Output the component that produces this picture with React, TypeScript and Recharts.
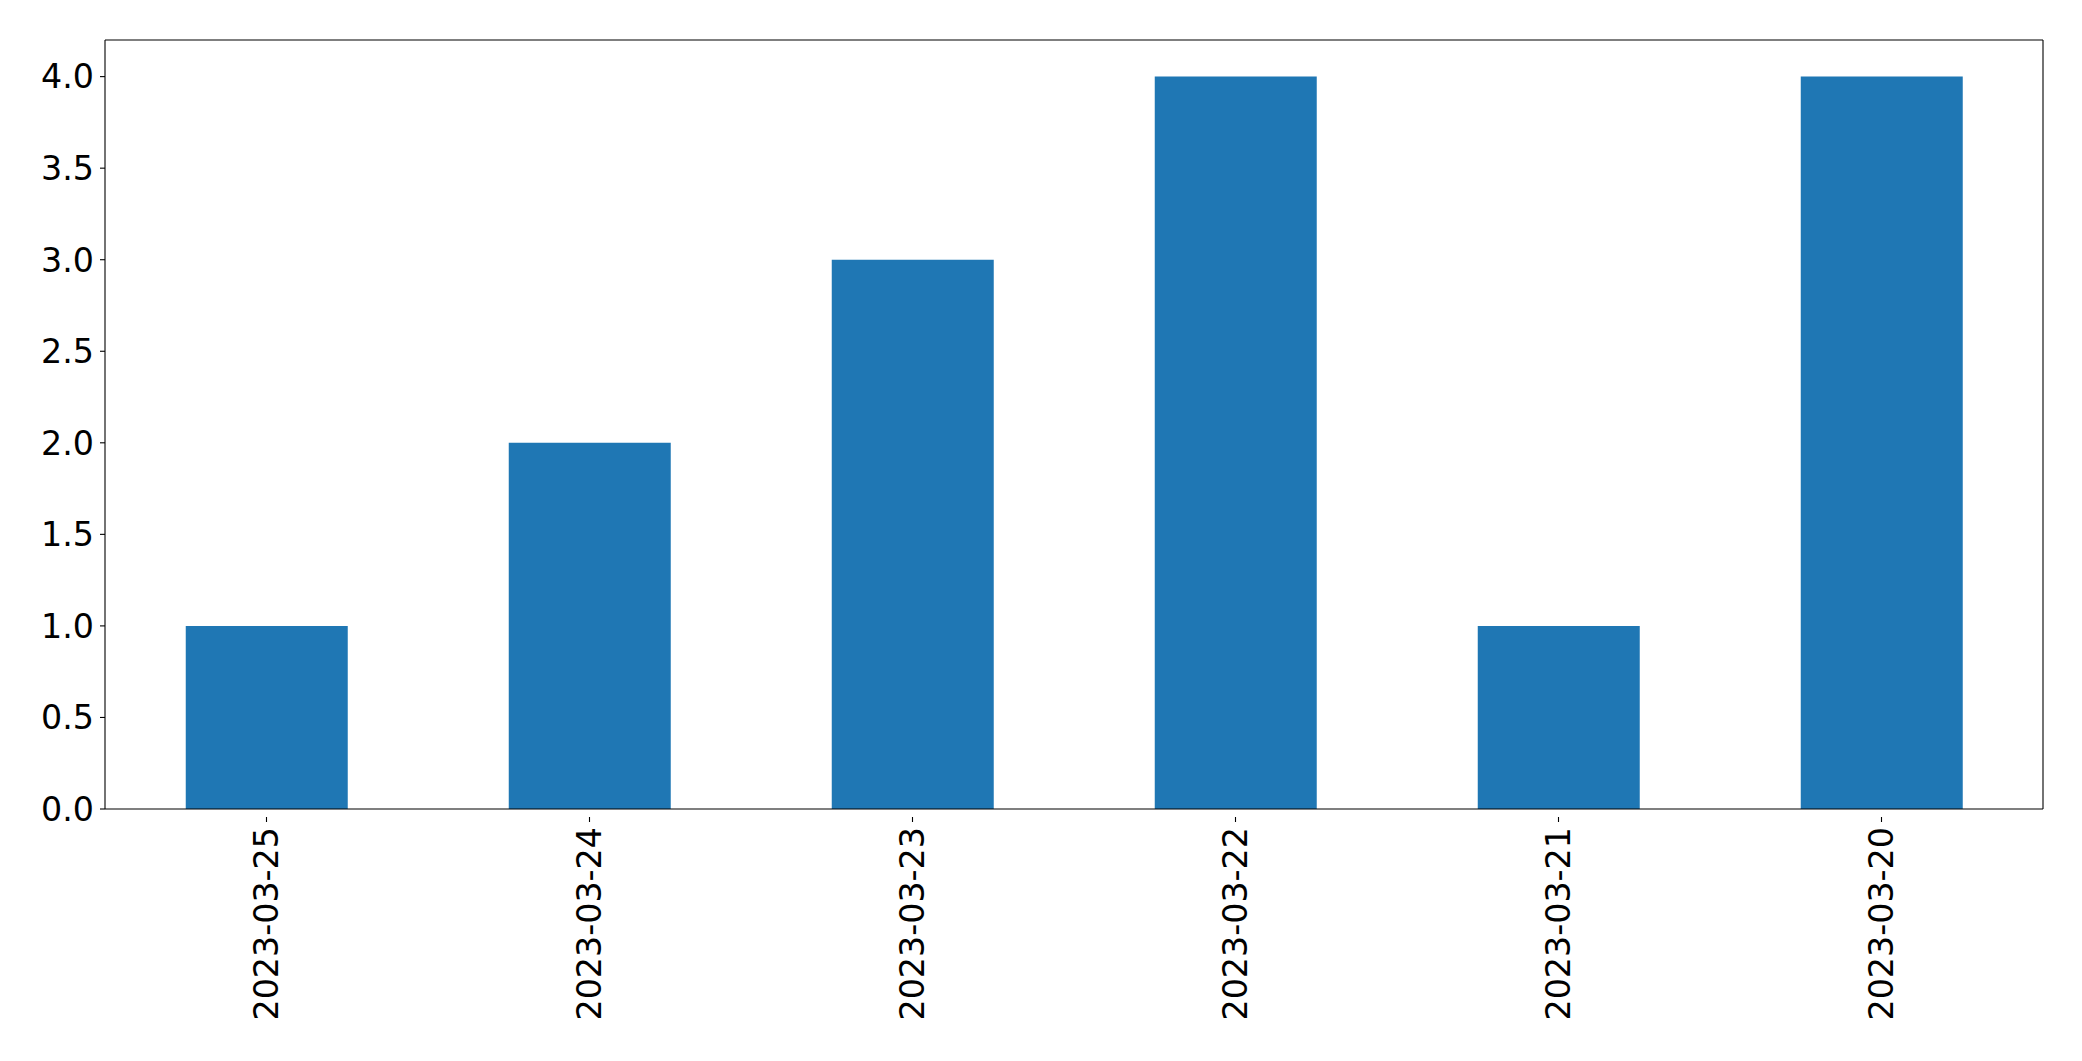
import React from 'react';
import { BarChart, Bar, XAxis, YAxis } from 'recharts';

const categories = ['2023-03-25', '2023-03-24', '2023-03-23', '2023-03-22', '2023-03-21', '2023-03-20'];
const values = [1, 2, 3, 4, 1, 4];
const yTicks = [0, 0.5, 1, 1.5, 2, 2.5, 3, 3.5, 4];

const data = categories.map((c, i) => ({ date: c, value: values[i] }));

const FONT = 'DejaVu Sans';
const FS = 33.3;

const XTick = (props: any) => {
  const { x, y, payload } = props;
  return (
    <g transform={`translate(${x},${y})`}>
      <line x1={0} y1={0} x2={0} y2={5} stroke="#000" strokeWidth={1.1} />
      <text
        transform="rotate(-90)"
        x={-10}
        y={0}
        dy="0.35em"
        textAnchor="end"
        fontFamily={FONT}
        fontSize={FS}
        fill="#000"
      >
        {payload.value}
      </text>
    </g>
  );
};

export default function App() {
  return (
    <div style={{ position: 'absolute', left: 0, top: 0, background: '#fff' }}>
      <BarChart
        width={2082}
        height={1061}
        data={data}
        margin={{ top: 39, right: 38, left: 0, bottom: 0 }}
        barCategoryGap="25%"
      >
        <XAxis
          dataKey="date"
          height={252}
          axisLine={{ stroke: '#000', strokeWidth: 1.1 }}
          tickLine={false}
          tick={<XTick />}
          interval={0}
        />
        <XAxis
          xAxisId="top"
          orientation="top"
          dataKey="date"
          height={1}
          axisLine={{ stroke: '#000', strokeWidth: 1.1 }}
          tickLine={false}
          tick={false}
        />
        <YAxis
          width={105}
          domain={[0, 4.2]}
          ticks={yTicks}
          allowDataOverflow
          interval={0}
          tickFormatter={(v: number) => v.toFixed(1)}
          axisLine={{ stroke: '#000', strokeWidth: 1.1 }}
          tickLine={{ stroke: '#000', strokeWidth: 1.1 }}
          tickSize={5}
          tickMargin={6}
          tick={{ fontFamily: FONT, fontSize: FS, fill: '#000' }}
        />
        <YAxis
          yAxisId="right"
          orientation="right"
          width={1}
          domain={[0, 4.2]}
          axisLine={{ stroke: '#000', strokeWidth: 1.1 }}
          tickLine={false}
          tick={false}
        />
        <Bar dataKey="value" fill="#1f77b4" isAnimationActive={false} />
      </BarChart>
    </div>
  );
}
